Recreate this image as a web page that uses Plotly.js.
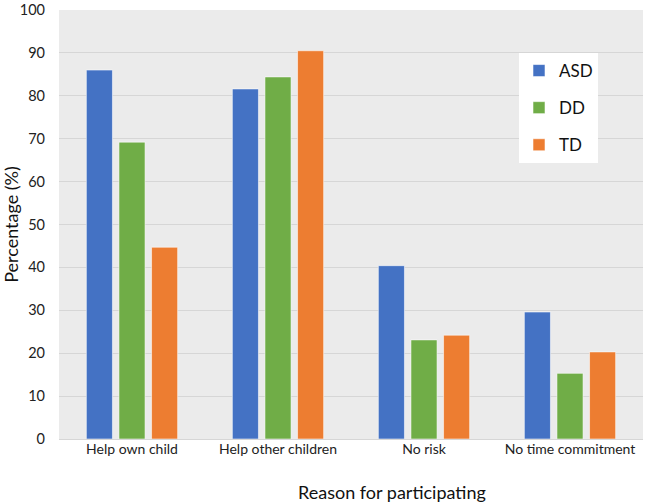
<!DOCTYPE html>
<html>
<head>
<meta charset="utf-8">
<script src="https://cdn.plot.ly/plotly-3.0.1.min.js"></script>
<style>html,body{margin:0;padding:0;background:#fff;}#chart{width:646px;height:503px;}</style>
</head>
<body>
<div id="chart"></div>
<script>
const categories = ["Help own child", "Help other children", "No risk", "No time commitment"];
const asdValues = [86.0, 81.6, 40.4, 29.6];
const ddValues = [69.2, 84.4, 23.1, 15.3];
const tdValues = [44.7, 90.5, 24.2, 20.3];
const seriesNames = ["ASD", "DD", "TD"];
const seriesColors = ["#4472C4", "#70AD47", "#ED7D31"];
const yTicks = [0, 10, 20, 30, 40, 50, 60, 70, 80, 90, 100];

const allValues = [asdValues, ddValues, tdValues];
const traces = allValues.map((vals, i) => ({
  type: "bar",
  name: seriesNames[i],
  x: categories,
  y: vals,
  legendgroup: "g" + i,
  marker: {color: seriesColors[i], line: {color: "rgba(255,255,255,0.55)", width: 1}},
  hoverinfo: "none"
}));

const layout = {
  width: 646, height: 503,
  margin: {l: 59, r: 3, t: 10, b: 64},
  paper_bgcolor: "#ffffff",
  plot_bgcolor: "#ebebeb",
  barmode: "group",
  bargap: 0.33,
  bargroupgap: 0.2,
  font: {family: "Lato, 'Open Sans', sans-serif", color: "#222"},
  xaxis: {
    showgrid: false, showline: false, zeroline: false,
    tickfont: {size: 14, color: "#222"},
    ticks: "", ticklen: 0
  },
  yaxis: {
    range: [0, 100], tickvals: yTicks, ticktext: yTicks.map(String),
    ticklabeloverflow: "allow",
    gridcolor: "#d6d6d6", gridwidth: 1, zeroline: true, zerolinecolor: "#d6d6d6",
    showline: false, tickfont: {size: 14.5, color: "#222"},
    ticks: "", ticklabelstandoff: 13,
    title: {text: "Percentage (%)", font: {size: 18, color: "#111"}, standoff: 10}
  },
  legend: {
    bgcolor: "#ffffff", borderwidth: 0,
    font: {size: 17, color: "#111"},
    traceorder: "grouped", tracegroupgap: 12,
    itemwidth: 30
  },
  annotations: [{
    text: "Reason for participating", xref: "paper", yref: "paper",
    x: (392 - 59) / 584, y: 0, yshift: -53, xanchor: "center", yanchor: "middle",
    showarrow: false, font: {size: 18, color: "#111"}
  }]
};
layout.legend.x = (519 - 59) / 584;
layout.legend.y = (439 - 53) / 429;
layout.legend.xanchor = "left";
layout.legend.yanchor = "top";

Plotly.newPlot("chart", traces, layout, {displayModeBar: false, staticPlot: true});
</script>
</body>
</html>
